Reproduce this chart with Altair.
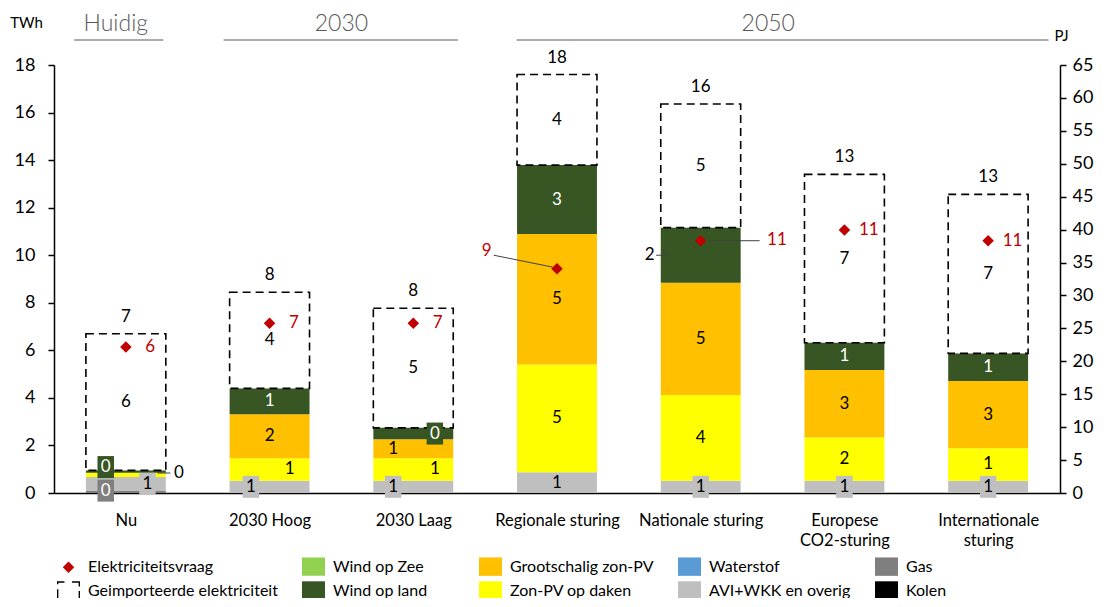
import json
import altair as alt
import pandas as pd

# ---------------- data ----------------
categories = ["Nu", "2030 Hoog", "2030 Laag", "Regionale sturing", "Nationale sturing",
              "Europese CO2-sturing", "Internationale sturing"]
axis_labels = [["Nu"], ["2030 Hoog"], ["2030 Laag"], ["Regionale sturing"], ["Nationale sturing"],
               ["Europese", "CO2-sturing"], ["Internationale", "sturing"]]

kolen = [0, 0, 0, 0, 0, 0, 0]
gas = [0.10, 0, 0, 0, 0, 0, 0]
avi = [0.57, 0.52, 0.52, 0.87, 0.52, 0.52, 0.52]
zon_daken = [0.18, 0.94, 0.94, 4.53, 3.60, 1.81, 1.36]
grootschalig = [0.0, 1.85, 0.80, 5.49, 4.72, 2.84, 2.83]
wind_land = [0.10, 1.09, 0.48, 2.90, 2.32, 1.15, 1.16]
wind_zee = [0, 0, 0, 0, 0, 0, 0]
waterstof = [0, 0, 0, 0, 0, 0, 0]
importen = [5.75, 4.04, 5.03, 3.81, 5.20, 7.08, 6.69]
vraag = [6.14, 7.14, 7.14, 9.43, 10.61, 11.06, 10.61]

groups = ["Huidig", "2030", "2050"]
group_first = [0, 1, 3]
group_last = [0, 2, 6]

twh_ticks = [0, 2, 4, 6, 8, 10, 12, 14, 16, 18]
pj_ticks = [0, 5, 10, 15, 20, 25, 30, 35, 40, 45, 50, 55, 60, 65]

# legend entries, row by row (2 rows x 5 columns)
legend_order = ["Elektriciteitsvraag", "Wind op Zee", "Grootschalig zon-PV", "Waterstof", "Gas",
                "Geimporteerde elektriciteit", "Wind op land", "Zon-PV op daken",
                "AVI+WKK en overig", "Kolen"]
legend_colors = ["#C00000", "#92D050", "#FFC000", "#5B9BD5", "#7F7F7F",
                 "#000000", "#375623", "#FFFF00", "#BFBFBF", "#000000"]

# ---------------- styling (symbols, label offsets) ----------------
DIAMOND = "M0,-0.5L0.5,0L0,0.5L-0.5,0Z"
SWATCH = "M-1,-0.8H1V0.8H-1Z"
SWATCH_WIDE = SWATCH + " M12.3,0"   # invisible anchor widening the 2nd legend column
DASHBOX = ("M-1,-0.8H-0.35V-0.68H-1Z M0.3,-0.8H1V-0.68H0.3Z M-1,-0.8H-0.88V-0.55H-1Z "
           "M0.88,-0.8H1V-0.35H0.88Z M-1,-0.1H-0.88V0.8H-1Z M0.88,0.05H1V0.8H0.88Z")
BOX = "M-0.75,-1H0.75V1H-0.75Z"
legend_shapes = [DIAMOND, SWATCH_WIDE, SWATCH, SWATCH, SWATCH,
                 DASHBOX, SWATCH, SWATCH, SWATCH, SWATCH]

HALF = 0.278  # half bar width in category units

# (category index, source) -> (x offset [cat units], y offset [TWh], boxed, outside)
seg_label_style = {
    (0, "Gas"): (-0.14, 0.05, True, False),
    (0, "AVI+WKK en overig"): (0.15, 0.0, True, False),
    (0, "Zon-PV op daken"): (0.37, 0.08, False, True),
    (0, "Wind op land"): (-0.14, 0.19, True, False),
    (1, "AVI+WKK en overig"): (-0.13, 0.0, True, False),
    (1, "Zon-PV op daken"): (0.14, 0.0, False, False),
    (2, "AVI+WKK en overig"): (-0.14, 0.0, True, False),
    (2, "Zon-PV op daken"): (0.15, 0.0, False, False),
    (2, "Grootschalig zon-PV"): (-0.14, 0.0, False, False),
    (2, "Wind op land"): (0.15, 0.0, True, False),
    (4, "AVI+WKK en overig"): (0.0, 0.0, True, False),
    (4, "Wind op land"): (-0.355, 0.0, False, True),
    (5, "AVI+WKK en overig"): (0.0, 0.0, True, False),
    (6, "AVI+WKK en overig"): (0.0, 0.0, True, False),
}
dem_label_style = {3: (-0.49, 0.75), 4: (0.53, 0.03)}
DEM_DEFAULT = (0.17, 0.0)
hdr_pad_left = [0.36, 0.32, 0.28]
hdr_pad_right = [0.26, 0.31, 0.42]
hdr_text_shift = [-0.07, 0.0, -0.03]

series = {
    "Kolen": kolen, "Gas": gas, "AVI+WKK en overig": avi, "Zon-PV op daken": zon_daken,
    "Grootschalig zon-PV": grootschalig, "Wind op land": wind_land,
    "Wind op Zee": wind_zee, "Waterstof": waterstof,
}
seg_colors = dict(zip(legend_order, legend_colors))
white_text = {"Gas", "Wind op land"}

# ---------------- tables ----------------
seg_rows, lab_rows, box_rows = [], [], []
local_top = []
for i, cat in enumerate(categories):
    base = 0.0
    for s, vals in series.items():
        v = vals[i]
        if v > 0:
            mid = base + v / 2
            seg_rows.append(dict(idx=i, bron=s, start=base, end=base + v))
            ox, oy, boxed, outside = seg_label_style.get((i, s), (0.0, 0.0, False, False))
            white = (s in white_text) and not outside
            lab_rows.append(dict(lx=i + ox, ly=mid + oy, txt=f"{v:.0f}",
                                 tc="#FFFFFF" if white else "#000000"))
            if boxed:
                box_rows.append(dict(lx=i + ox, ly=mid + oy, bc=seg_colors[s]))
        base += v
    local_top.append(base)

# leader lines (next to the labels placed outside)
zon_nu = gas[0] + avi[0] + zon_daken[0] / 2 + 0.08
wl_mid = local_top[4] - wind_land[4] / 2
leader_rows = [
    dict(x1=0 + 0.22, x2=0 + 0.31, y1=zon_nu, y2=zon_nu),
    dict(x1=4 - 0.31, x2=4 - 0.22, y1=wl_mid, y2=wl_mid),
    dict(x1=3 - 0.44, x2=3 - 0.03, y1=vraag[3] + 0.57, y2=vraag[3] + 0.07),
    dict(x1=4 + 0.06, x2=4 + 0.41, y1=vraag[4], y2=vraag[4]),
]

seg = pd.DataFrame(seg_rows)
seg["xa"] = seg["idx"] - HALF
seg["xb"] = seg["idx"] + HALF
labs = pd.DataFrame(lab_rows)
boxes = pd.DataFrame(box_rows)
leaders = pd.DataFrame(leader_rows)

imp = pd.DataFrame(dict(idx=list(range(7)), start=local_top,
                        end=[a + b for a, b in zip(local_top, importen)], value=importen))
imp["xa"] = imp["idx"] - HALF
imp["xb"] = imp["idx"] + HALF
imp["mid"] = (imp["start"] + imp["end"]) / 2
imp["txt"] = [f"{v:.0f}" for v in importen]
imp["ttxt"] = [f"{v:.0f}" for v in imp["end"]]

dem = pd.DataFrame(dict(idx=list(range(7)), vraag=vraag, bron="Elektriciteitsvraag"))
dem["lx"] = [i + dem_label_style.get(i, DEM_DEFAULT)[0] for i in range(7)]
dem["ly"] = [v + dem_label_style.get(i, DEM_DEFAULT)[1] for i, v in enumerate(vraag)]
dem["txt"] = [f"{v:.0f}" for v in vraag]
dem["pj"] = [v * 3.6 for v in vraag]

hdr = pd.DataFrame(dict(grp=groups, first=group_first, last=group_last))
hdr["xa"] = [f - p for f, p in zip(group_first, hdr_pad_left)]
hdr["xb"] = [l + p for l, p in zip(group_last, hdr_pad_right)]
hdr["xc"] = [(f + l) / 2 + s for f, l, s in zip(group_first, group_last, hdr_text_shift)]

# ---------------- scales / axes ----------------
xscale = alt.Scale(domain=[-0.5, 6.5], nice=False, zero=False)
xaxis = alt.Axis(values=list(range(7)), labelExpr=json.dumps(axis_labels) + "[datum.value]",
                 title=None, grid=False, ticks=False, labelPadding=19, labelFontSize=16.5,
                 labelColor="#000000", domainColor="#000000", domainWidth=1.5,
                 labelLineHeight=20, labelFlush=False, labelOverlap=False, labelBound=False)
yscale = alt.Scale(domain=[0, 18], nice=False, zero=True)
yaxis = alt.Axis(values=twh_ticks, title="TWh", titleAngle=0, titleX=-28, titleY=-43,
                 titleAlign="center", titleBaseline="middle", titleFontSize=15,
                 titleFontWeight="normal", titleColor="#000000",
                 grid=False, tickSize=6, tickColor="#000000", tickWidth=1.5,
                 domainColor="#000000", domainWidth=1.5, labelFontSize=18,
                 labelColor="#000000", labelPadding=13)
pjaxis = alt.Axis(values=pj_ticks, orient="right", title="PJ", titleAngle=0, titleX=-6,
                  titleY=-30, titleAlign="left", titleBaseline="middle", titleFontSize=15,
                  titleFontWeight="normal", titleColor="#000000",
                  grid=False, tickSize=6, tickColor="#000000", tickWidth=1.5,
                  domainColor="#000000", domainWidth=1.5, labelFontSize=18,
                  labelColor="#000000", labelPadding=6)

legend = alt.Legend(title=None, orient="none", legendX=3, legendY=490, columns=5,
                    direction="horizontal", labelLimit=400,
                    symbolSize=529, labelFontSize=16, labelColor="#000000", labelOffset=8,
                    rowPadding=3, columnPadding=24, symbolStrokeWidth=0, padding=0)
cscale = alt.Scale(domain=legend_order, range=legend_colors)
sscale = alt.Scale(domain=legend_order, range=legend_shapes)


def X(f):
    return alt.X(f"{f}:Q", scale=xscale, axis=xaxis)


def Y(f):
    return alt.Y(f"{f}:Q", scale=yscale, axis=yaxis)


bars = alt.Chart(seg).mark_bar(strokeWidth=0).encode(
    x=X("xa"), x2="xb", y=Y("start"), y2="end",
    color=alt.Color("bron:N", scale=cscale, legend=legend),
)

impbox = alt.Chart(imp).mark_rect(filled=False, stroke="#000000", strokeWidth=1.6,
                                  strokeDash=[8, 5]).encode(
    x=X("xa"), x2="xb", y=Y("start"), y2="end")

boxlayer = alt.Chart(boxes).mark_point(filled=True, shape=BOX, size=484, opacity=1,
                                       strokeWidth=0).encode(
    x=X("lx"), y=Y("ly"), color=alt.Color("bc:N", scale=None))

seglabels = alt.Chart(labs).mark_text(fontSize=17, baseline="middle", align="center").encode(
    x=X("lx"), y=Y("ly"), text="txt:N", color=alt.Color("tc:N", scale=None))

implabels = alt.Chart(imp).mark_text(fontSize=17, baseline="middle", color="#000000").encode(
    x=X("idx"), y=Y("mid"), text="txt:N")

totlabels = alt.Chart(imp).mark_text(fontSize=17, baseline="middle", dy=-17, color="#000000").encode(
    x=X("idx"), y=Y("end"), text="ttxt:N")

leaderlayer = alt.Chart(leaders).mark_rule(color="#404040", strokeWidth=1).encode(
    x=X("x1"), x2="x2", y=Y("y1"), y2="y2")

dempts = alt.Chart(dem).mark_point(filled=True, size=529, opacity=1, strokeWidth=0).encode(
    x=X("idx"), y=Y("vraag"),
    color=alt.Color("bron:N", scale=cscale, legend=legend),
    shape=alt.Shape("bron:N", scale=sscale, legend=legend),
)

demlabels = alt.Chart(dem).mark_text(fontSize=17, baseline="middle", color="#C00000").encode(
    x=X("lx"), y=Y("ly"), text="txt:N")

hdrrule = alt.Chart(hdr).mark_rule(color="#595959", strokeWidth=1).encode(
    x=X("xa"), x2="xb", y=alt.value(-25))
hdrtext = alt.Chart(hdr).mark_text(fontSize=23, color="#595959", baseline="middle",
                                   fontWeight=300).encode(
    x=X("xc"), y=alt.value(-41), text="grp:N")

left = alt.layer(bars, impbox, leaderlayer, boxlayer, seglabels, implabels, totlabels,
                 dempts, demlabels, hdrrule, hdrtext)

right = alt.Chart(dem).mark_point(opacity=0).encode(
    x=X("idx"),
    y=alt.Y("pj:Q", scale=alt.Scale(domain=[0, 65], nice=False, zero=True), axis=pjaxis))

chart = alt.layer(left, right).resolve_scale(y="independent").properties(
    width=1006, height=428,
    padding={"left": 46, "top": 57, "right": 37, "bottom": 105},
    autosize=alt.AutoSizeParams(type="none"),
).configure(font="Lato").configure_view(stroke=None)

chart.save("out.html", embed_options={"renderer": "svg", "actions": False})
